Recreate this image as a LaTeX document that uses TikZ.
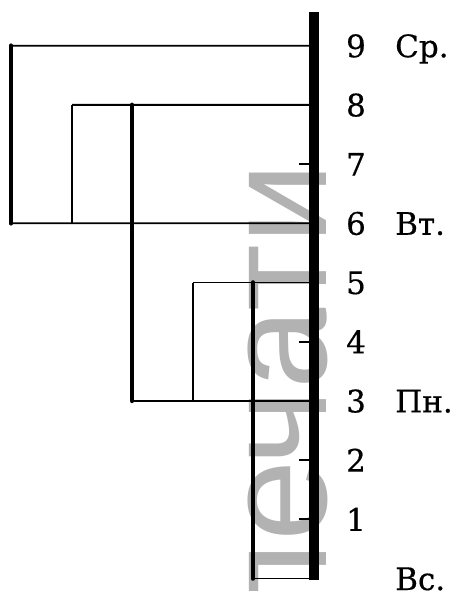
\documentclass[tikz,border=0pt]{standalone}
\usepackage{fontspec}
\setmainfont{DejaVu Serif}[FakeBold=0.5]
\newfontfamily\wmfont{Liberation Sans}
\begin{document}
\begin{tikzpicture}[x=1pt,y=-1pt,
  thinline/.style={line width=1.8pt},
  thickline/.style={line width=4.6pt,line cap=round},
  axisline/.style={line width=10pt},
  tickline/.style={line width=2pt},
  num/.style={anchor=base,inner sep=0pt,font=\fontsize{31}{31}\selectfont},
  day/.style={anchor=base west,inner sep=0pt,font=\fontsize{31}{31}\selectfont},
  watermark/.style={anchor=base east,rotate=90,inner sep=0pt,text=black!30,
    font=\wmfont\fontsize{146}{146}\selectfont}]
\useasboundingbox (0,0) rectangle (459,591);
\clip (0,0) rectangle (459,591);
% watermark
\node[watermark] (wm) at (326,163) {печати};
% axis points
\foreach \k in {0,...,9}{
  \coordinate (a\k) at (314,{578.5-59.2*\k});
  \coordinate (t\k) at (299,{578.5-59.2*\k});
}
\coordinate (atop) at (314,12);
\coordinate (abot) at (314,579.5);
% branch points
\coordinate (b9) at (11,45.7);
\coordinate (b6) at (11,223.3);
\coordinate (c8) at (72,104.9);
\coordinate (c6) at (72,223.3);
\coordinate (d8) at (132,104.9);
\coordinate (d3) at (132,400.9);
\coordinate (e5) at (193,282.5);
\coordinate (e3) at (193,400.9);
\coordinate (f5) at (253,282.5);
\coordinate (f0) at (253,578.5);
% thin connectors
\draw[thinline] (b9) -- (a9);
\draw[thinline] (b6) -- (a6);
\draw[thinline] (c8) -- (a8);
\draw[thinline] (c8) -- (c6);
\draw[thinline] (d3) -- (a3);
\draw[thinline] (e5) -- (a5);
\draw[thinline] (e5) -- (e3);
\draw[thinline] (f0) -- (a0);
% thick verticals
\draw[thickline] (b9) -- (b6);
\draw[thickline] (d8) -- (d3);
\draw[thickline] (f5) -- (f0);
% ticks
\foreach \k in {1,2,4,7}{ \draw[tickline] (t\k) -- (a\k); }
% axis
\draw[axisline] (atop) -- (abot);
% labels
\foreach \k in {1,...,9}{
  \node[num] (n\k) at (356,{578.5-59.2*\k+11.5}) {\k};
}
\node[day] (d9) at (395,{578.5-59.2*9+11.5}) {Ср.};
\node[day] (d6) at (395,{578.5-59.2*6+11.5}) {Вт.};
\node[day] (dd3) at (395,{578.5-59.2*3+11.5}) {Пн.};
\node[day] (d0) at (395,{578.5+11.5}) {Вс.};
\end{tikzpicture}
\end{document}
